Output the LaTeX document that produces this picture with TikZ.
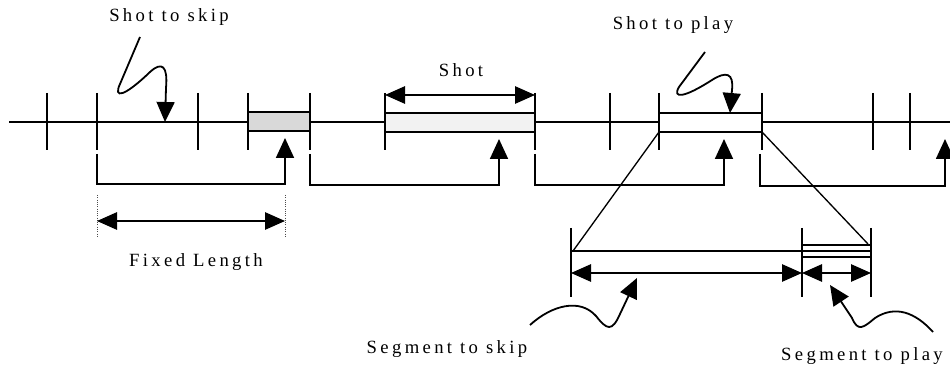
\documentclass[tikz,border=0pt]{standalone}
\usepackage{fontspec}
\setmainfont{Liberation Serif}[LetterSpace=18]
\usetikzlibrary{arrows.meta}
\begin{document}
\begin{tikzpicture}[x=0.75pt,y=-0.75pt,
  line/.style={line width=1.35pt, line join=miter},
  thin line/.style={line width=1pt},
  tip/.style={-{Triangle[length=15pt,width=13.5pt]}},
  dtip/.style={{Triangle[length=15pt,width=13pt]}-{Triangle[length=15pt,width=13pt]}},
  lbl/.style={font=\fontsize{14pt}{16pt}\selectfont, inner sep=0pt},
  dotline/.style={line width=0.7pt, densely dotted, draw=black!70}
]
\useasboundingbox (0,0) rectangle (950,367);

% ---- main time line
\coordinate (L0) at (9,122);
\coordinate (L1) at (950,122);
\draw[line] (L0) -- (L1);

% ---- shot boxes
\coordinate (gA) at (248,112); \coordinate (gB) at (310,131);
\coordinate (sA) at (385,113); \coordinate (sB) at (535,132);
\coordinate (pA) at (659,113); \coordinate (pB) at (762,132);
\draw[line, fill=black!15] (gA) rectangle (gB);
\draw[line, fill=black!5] (sA) rectangle (sB);
\draw[line, fill=white] (pA) rectangle (pB);

% ---- shot boundaries
\foreach \x/\n in {47/a,97/b,198/c,248/d,310/e,385/f,535/g,610/h,659/i,762/j,873/k,910/l}{
  \coordinate (t\n) at (\x,93);
  \coordinate (b\n) at (\x,150);
  \draw[line] (t\n) -- (b\n);
}

% ---- brackets (jumps)
\coordinate (j1s) at (97,154);  \coordinate (j1e) at (285,138);
\coordinate (j2s) at (310,154); \coordinate (j2e) at (499,139);
\coordinate (j3s) at (535,154); \coordinate (j3e) at (724,139);
\coordinate (j4s) at (760,154); \coordinate (j4e) at (945,139);
\draw[line, tip] (j1s) -- (97,184) -- (285,184) -- (j1e);
\draw[line, tip] (j2s) -- (310,185) -- (499,185) -- (j2e);
\draw[line, tip] (j3s) -- (535,185) -- (724,185) -- (j3e);
\draw[line, tip] (j4s) -- (760,186) -- (945,186) -- (j4e);

% ---- fixed length
\coordinate (f1a) at (97,195);  \coordinate (f1b) at (97,238);
\coordinate (f2a) at (285,195); \coordinate (f2b) at (285,238);
\draw[dotline] (f1a) -- (f1b);
\draw[dotline] (f2a) -- (f2b);
\coordinate (fl) at (97,221); \coordinate (fr) at (285,221);
\draw[line, dtip] (fl) -- (fr);
\node[lbl] (fixed) at (196,262) {Fixed Length};

% ---- shot length
\coordinate (shl) at (385,95); \coordinate (shr) at (535,95);
\draw[line, dtip] (shl) -- (shr);
\node[lbl] (shot) at (461,70) {Shot};

% ---- shot to skip
\node[lbl] (skip) at (169,17) {Shot to skip};
\coordinate (k0) at (140,37);
\coordinate (k1) at (165,122);
\draw[line, tip] (k0) -- (120,84)
  .. controls (113,99) and (124,97) .. (150,72)
  .. controls (162,61) and (168,66) .. (166,88) -- (k1);

% ---- shot to play
\node[lbl] (play) at (673,25) {Shot to play};
\coordinate (q0) at (705,52);
\coordinate (q1) at (730,113);
\draw[line, tip] (q0) -- (679,87)
  .. controls (672,99) and (684,98) .. (712,80)
  .. controls (726,71) and (734,73) .. (732,90) -- (q1);

% ---- zoom lines
\coordinate (z1) at (573,251);
\coordinate (z2) at (868,244);
\draw[thin line] (pA |- pB) -- (z1);
\draw[thin line] (pB) -- (z2);

% ---- segment detail
\coordinate (m0) at (571,251);
\coordinate (m1) at (871,251);
\draw[line] (m0) -- (m1);
\coordinate (rA) at (802,245); \coordinate (rB) at (871,257);
\draw[line, fill=white] (rA) rectangle (rB);
\draw[line] (802,251) -- (871,251);
\foreach \x/\n in {571/u,802/v,871/w}{
  \coordinate (s\n) at (\x,228);
  \coordinate (e\n) at (\x,297);
  \draw[line] (s\n) -- (e\n);
}
\coordinate (d0) at (571,273);
\coordinate (d1) at (802,273);
\coordinate (d2) at (871,273);
\draw[line, dtip] (d0) -- (d1);
\draw[line, dtip] (d1) -- (d2);

% ---- segment to skip
\node[lbl] (segskip) at (447,349) {Segment to skip};
\coordinate (w0) at (530,325);
\coordinate (w1) at (637,278);
\draw[line, tip] (w0) .. controls (552,305) and (580,298) .. (596,316)
  .. controls (607,330) and (612,332) .. (620,314) -- (w1);

% ---- segment to play
\node[lbl] (segplay) at (862,356) {Segment to play};
\coordinate (v0) at (933,332);
\coordinate (v1) at (830,285);
\draw[line, tip] (v0) .. controls (915,312) and (895,305) .. (875,318)
  .. controls (863,328) and (858,332) .. (852,318) -- (v1);
\end{tikzpicture}
\end{document}
